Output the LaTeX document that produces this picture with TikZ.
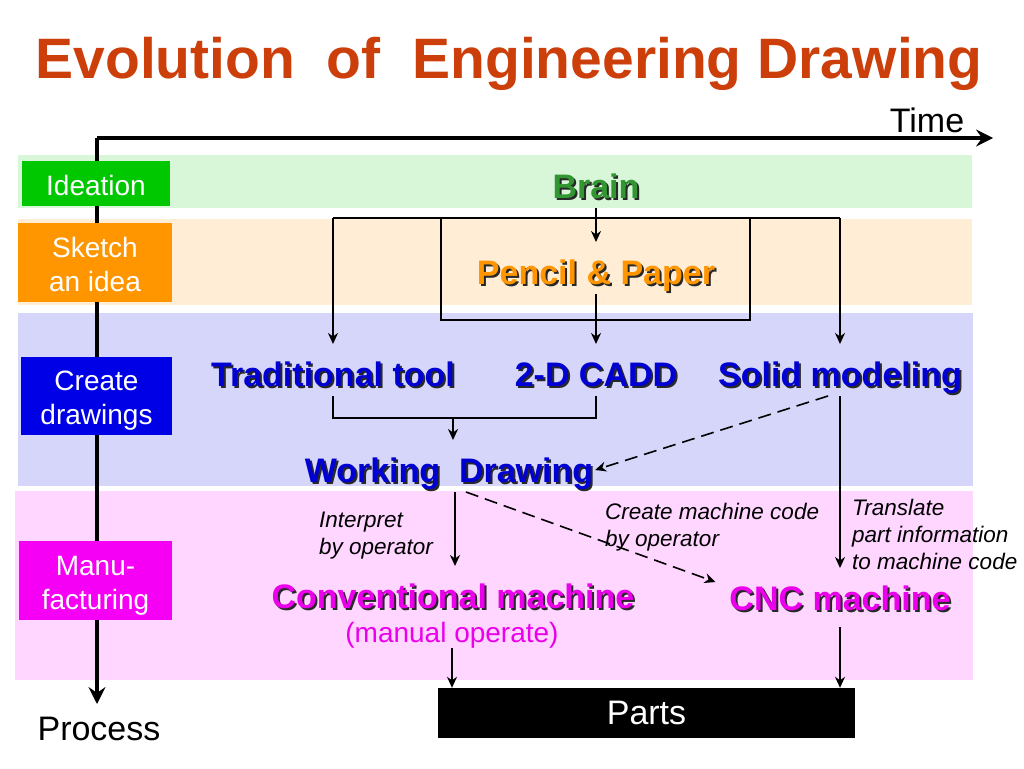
\documentclass[tikz,border=0pt]{standalone}
\usepackage{fontspec}
\setmainfont{Liberation Sans}
\usetikzlibrary{arrows.meta}
\definecolor{titlec}{RGB}{204,62,10}
\definecolor{bandG}{RGB}{216,246,216}
\definecolor{bandO}{RGB}{255,237,214}
\definecolor{bandB}{RGB}{214,214,250}
\definecolor{bandP}{RGB}{255,214,255}
\definecolor{labG}{RGB}{0,200,0}
\definecolor{labO}{RGB}{255,150,0}
\definecolor{labB}{RGB}{0,0,230}
\definecolor{labP}{RGB}{245,0,245}
\definecolor{gtext}{RGB}{50,150,50}
\definecolor{otext}{RGB}{255,150,0}
\definecolor{btext}{RGB}{0,0,210}
\definecolor{mtext}{RGB}{235,0,235}
\definecolor{shadowc}{RGB}{40,40,40}
\newcommand\fs[2]{\fontsize{#1}{#2}\selectfont}
\newcommand\shd[1]{\rlap{\kern2pt\raisebox{-2pt}{\textcolor{shadowc}{#1}}}#1}
\newcommand\twol[3]{\raisebox{#1}[0pt][0pt]{\begin{tabular}[t]{@{}c@{}}#2\\#3\end{tabular}}}
\begin{document}
\begin{tikzpicture}[x=1pt,y=-1pt,
  big/.style={font=\fs{34}{40}\bfseries, text height=24pt, text depth=0pt, inner sep=0pt, outer ysep=10pt, outer xsep=2pt},
  mid/.style={font=\fs{28}{34}, text height=20pt, text depth=0pt, inner sep=0pt, outer ysep=6pt},
  lab/.style={fill=#1, text=white, font=\fs{28}{34}, inner sep=0pt},
  note/.style={font=\fs{22.5}{27}\itshape, align=left, inner sep=0pt},
  ln/.style={line width=1.6pt},
  arr/.style={line width=1.6pt, -{Stealth[length=11pt,width=10pt,inset=3.5pt]}},
  intop/.style={shorten >=8pt},
  dsh/.style={dash pattern=on 13pt off 7pt},
  axis/.style={line width=3.5pt, -{Stealth[length=17pt,width=17pt,inset=6pt]}}]
\useasboundingbox (0,0) rectangle (1024,768);
\fill[white] (0,0) rectangle (1024,768);
% bands
\fill[bandG] (18,155) rectangle (972,208);
\fill[bandO] (18,219) rectangle (972,305);
\fill[bandB] (18,313) rectangle (973,486);
\fill[bandP] (15,491) rectangle (973,680);
% title
\node[font=\fs{57}{64}\bfseries, text=titlec, anchor=base, inner sep=0pt] (title) at (509,78) {Evolution\ \ of\ \ Engineering Drawing};
% axes
\coordinate (o) at (97,138);
\coordinate (tend) at (993,138);
\coordinate (pend) at (97,704);
\draw[axis] (o) -- (tend);
\draw[axis] (o) -- (pend);
\node[font=\fs{34}{40}, anchor=base, inner sep=0pt] (time) at (927,132) {Time};
\node[font=\fs{34}{40}, anchor=base, inner sep=0pt] (process) at (99,740) {Process};
% stage labels
\node[lab=labG, minimum width=148pt, minimum height=45pt] (ideation) at (96,183.5) {\raisebox{-11.5pt}[0pt][0pt]{Ideation}};
\node[lab=labO, minimum width=154pt, minimum height=79pt] (sketch) at (95,262.5) {\twol{5.5pt}{Sketch}{an idea}};
\node[lab=labB, minimum width=151pt, minimum height=78pt] (create) at (96.5,396) {\twol{6pt}{Create}{drawings}};
\node[lab=labP, minimum width=153pt, minimum height=79pt] (manu) at (95.5,580.5) {\twol{5pt}{Manu-}{facturing}};
% frame around pencil & paper
\node[draw, line width=1.6pt, minimum width=309pt, minimum height=102pt, inner sep=0pt] (frame) at (595.5,269) {};
% main nodes
\node[big, text=gtext] (brain) at (596,186) {\shd{Brain}};
\node[big, text=otext] (pencil) at (596,272) {\shd{Pencil \& Paper}};
\node[big, text=btext] (trad) at (333,374) {\shd{Traditional tool}};
\node[big, text=btext] (cadd) at (596,374) {\shd{2-D CADD}};
\node[big, text=btext] (solid) at (840,374) {\shd{Solid modeling}};
\node[big, text=btext] (wd) at (449,470) {\shd{Working\ \ Drawing}};
\node[big, text=mtext] (conv) at (453,596) {\shd{Conventional machine}};
\node[mid, text=mtext] (manual) at (452,632) {(manual operate)};
\node[big, text=mtext] (cnc) at (840,598) {\shd{CNC machine}};
\node[fill=black, text=white, font=\fs{34}{40}, minimum width=417pt, minimum height=50pt, inner sep=0pt] (parts) at (646.5,713) {Parts};
% notes
\node[note, anchor=north west] (n1) at (319,512) {Interpret\\by operator};
\node[note, anchor=north west] (n2) at (605,503) {Create machine code\\by operator};
\node[note, anchor=north west] (n3) at (852,499) {Translate\\part information\\to machine code};
% connectors
\coordinate (tl) at (333,218);
\coordinate (tr) at (840,218);
\coordinate (jn) at (453,418);
\draw[arr,intop] (brain) -- (pencil);
\draw[arr,intop] (pencil) -- (cadd);
\draw[ln] (tl) -- (tr);
\draw[arr,intop] (tl) -- (trad);
\draw[arr,intop] (tr) -- (solid);
\draw[ln] (trad.south) |- (jn) -| (cadd.south);
\draw[arr,intop] (jn) -- (jn |- wd.north);
\draw[arr,dsh] ([xshift=-12pt]solid.south) -- (wd.east);
\draw[arr,intop] (solid) -- (cnc);
\draw[arr,intop] ([xshift=6pt]wd.south) -- ([xshift=6pt]wd.south |- conv.north);
\draw[arr,dsh] ([xshift=17pt]wd.south) -- ([xshift=-12pt,yshift=-6pt]cnc.north west);
\draw[arr] (manual.south) -- (manual.south |- parts.north);
\draw[arr,shorten <=7pt] (cnc.south) -- (cnc.south |- parts.north);
\end{tikzpicture}
\end{document}
